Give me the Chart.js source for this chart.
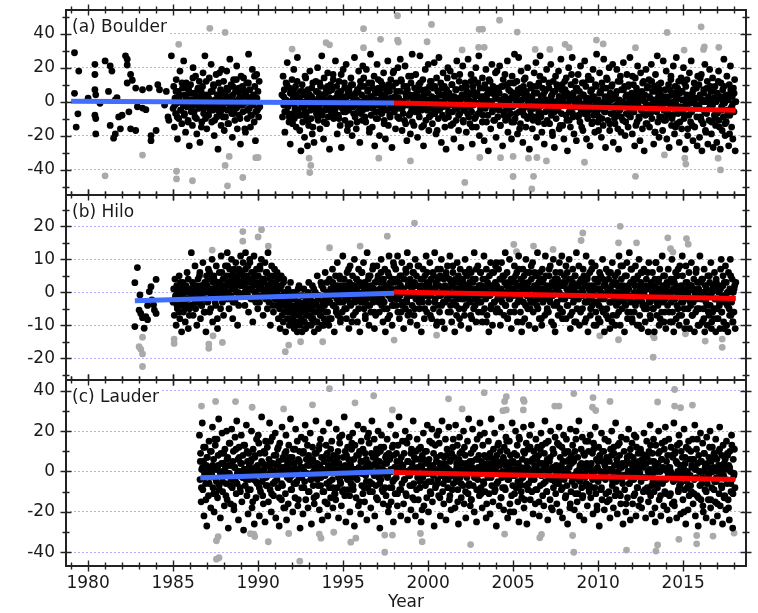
<!DOCTYPE html>
<html>
<head>
<meta charset="utf-8">
<script src="https://cdn.jsdelivr.net/npm/chart.js@4.4.1/dist/chart.umd.min.js"></script>
<style>
  html, body { margin: 0; padding: 0; background: #fff; }
  #wrap { position: relative; width: 758px; height: 613px; overflow: hidden; }
  #wrap canvas { position: absolute; left: 0; }
</style>
</head>
<body>
<div id="wrap">
  <canvas id="panelA" width="758" height="209" style="top:-2px"></canvas>
  <canvas id="panelB" width="758" height="209" style="top:183px"></canvas>
  <canvas id="panelC" width="758" height="245" style="top:368px"></canvas>
</div>
<script>
// ---- axes ----
const xMin = 1978.7, xMax = 2018.7;
const xLabelYears = [1980, 1985, 1990, 1995, 2000, 2005, 2010, 2015];
const boulderRange = [-55, 54];
const hiloRange = [-26.6, 29.5];
const lauderRange = [-46.8, 45.3];
const boulderYLabels = [-40, -20, 0, 20, 40];
const hiloYLabels = [-20, -10, 0, 10, 20];
const lauderYLabels = [-40, -20, 0, 20, 40];

// ---- (a) Boulder ----
const boulderEarly = [[1979.2,28.8],[1979.2,4.9],[1979.4,-7.2],[1979.3,-15],[1979.45,18],[1980.0,2],[1980.4,22],[1980.4,16],[1980.4,7],[1980.45,4],[1980.4,-8],[1980.45,-10],[1980.45,-19],[1980.7,-1],[1981.0,24],[1981.3,21],[1981.4,18],[1981.2,6],[1981.6,1],[1981.3,-14],[1981.9,-16],[1981.5,-21.5],[1981.6,-19],[1981.7,2.3],[1981.8,-9],[1982.0,-8],[1982.4,-6],[1982.2,27],[1982.3,25],[1982.3,21.6],[1982.5,16],[1982.6,12.6],[1982.3,11],[1982.8,8],[1983.2,7],[1983.6,8],[1982.9,-3],[1982.5,-16],[1982.8,-17],[1983.7,-20],[1983.7,-23],[1984.0,-17],[1983.2,-3.8],[1983.4,-4.7],[1984.1,10],[1984.2,7],[1984.5,-2],[1984.6,6],[1984.9,27],[1984.7,-9],[1984.75,-11]];
const boulderMidSpan = [1985.0, 1990.1];
const boulderMid = [
-4,9,-15,2,-7,13,-1,-22,6,-10,3,18,-5,0,-13,8,-2,24,-8,4,-18,11,-3,1,-11,7,-26,5,
10,-6,1,-14,20,-2,5,-9,15,-1,-19,3,8,-4,12,-24,0,6,-12,2,17,-7,-3,27,-10,4,-16,-1,
3,-8,14,-3,0,22,-12,6,-5,9,-20,1,-2,16,-9,4,-28,11,-6,2,7,-14,19,-1,-4,12,-17,5,
-9,2,18,-5,7,-13,0,25,-3,10,-7,-21,4,13,-1,-11,6,-4,21,-16,1,8,-8,3,-25,15,-2,9,
-6,14,-1,5,-18,3,11,-10,0,28,-4,7,-15,2,-8,19,-2,4,-12,9,-23,1,16,-5,6,-9,12,-3];
const boulderMid2Span = [1985.1, 1990.0];
const boulderMid2 = [
-2,6,-9,1,4,-5,11,-1,-7,3,8,-12,0,5,-3,14,-6,2,-10,7,-1,3,-15,9,-4,0,12,-8,2,-5,6,-2,10,-11,1,
-3,4,17,-6,0,-9,5,-1,8,-13,3,-4,2,9,-7,0,13,-3,6,-10,1,-2,7,-16,4,-5,11,0,-8,3,-1,15,-6,2,-4];
const boulderLateSpan = [1991.4, 2018.1];
const boulderLate = [
4,-9,15,-2,7,-18,1,11,-6,23,-3,0,-12,8,-25,5,-1,13,-7,2,19,-10,-4,9,-15,3,26,-5,
-8,2,-17,6,-29,-3,10,-12,-1,4,-21,-6,14,-9,0,-26,7,-14,-2,18,-5,-10,3,-19,11,-4,-24,1,
-2,12,-7,0,20,-11,5,-4,-16,9,-1,27,-8,3,-22,14,-5,1,8,-13,-3,17,-9,6,-28,2,10,-6,
7,-3,16,-10,1,-5,24,-1,9,-19,4,-8,12,0,-14,6,-27,3,-2,19,-6,11,-11,2,22,-4,-17,5,
-5,8,-1,-13,14,3,-20,10,-3,0,26,-9,5,-16,1,7,-6,18,-2,-24,12,-7,4,-11,21,-1,9,-4,
2,-12,19,-4,6,-1,11,-18,0,28,-8,3,-15,8,-3,15,-26,5,-6,1,22,-10,13,-2,-20,7,-5,4,
-7,10,-2,17,-11,4,-22,1,8,-5,24,-14,0,6,-9,13,-3,-27,9,-1,18,-6,3,-16,11,-4,2,20,
1,-10,6,25,-4,12,-17,0,-7,9,-2,21,-13,3,-23,7,-1,15,-8,4,-19,11,-5,28,-3,0,-14,8,
-6,16,-1,5,-21,2,10,-9,27,-4,7,-15,0,13,-26,4,-2,19,-11,6,-5,1,22,-17,9,-3,-8,12,
3,-13,8,-4,23,-7,1,-19,14,-1,6,-10,26,-5,0,11,-24,4,-8,17,-2,9,-15,2,-28,7,-3,20,
-9,5,-2,18,-14,0,10,-6,3,-22,15,-1,7,-11,24,-4,2,-17,12,-7,1,-27,8,-3,21,-12,4,-5,
11,-3,-18,6,1,25,-9,4,-13,0,16,-6,-25,9,-2,13,-10,3,20,-15,5,-1,-7,27,-20,8,-4,2,
-1,14,-8,3,-23,10,-4,19,-12,1,7,-29,5,-2,12,-16,0,22,-6,9,-11,4,-3,17,-21,2,8,-9,
6,-5,21,-14,0,9,-2,-26,13,-8,3,16,-11,1,-4,24,-18,7,-1,11,-7,2,-22,15,-3,5,-12,28,
-10,3,-1,12,-19,7,26,-6,0,-13,18,-3,5,-24,9,-8,2,14,-15,4,-2,20,-9,1,-28,10,-5,8,
2,-16,9,-4,17,-1,-9,23,-21,5,0,-12,11,-3,27,-7,3,-18,8,-2,13,-25,6,-6,1,19,-11,-1,
-4,8,-13,1,22,-8,4,-20,12,-2,-27,6,15,-10,0,9,-5,18,-16,3,-1,25,-7,10,-14,2,-22,5,
7,-2,14,-11,-29,3,20,-6,1,-15,10,-4,26,-9,5,-19,0,12,-3,-23,8,-1,16,-8,2,-12,21,-5,
-3,11,-17,4,-7,24,-1,9,-22,2,-10,15,-5,0,-26,6,13,-13,3,19,-8,1,-18,10,-2,28,-6,-12,
1,-9,17,-4,6,-21,11,-1,-14,25,-6,3,-27,8,-2,13,-11,0,20,-17,5,-7,9,-3,22,-24,2,-10,
-13,4,-2,19,-8,12,-28,1,-5,15,-18,7,0,-11,23,-3,9,-20,3,-7,16,-1,-15,10,-4,26,-9,2,
5,-19,0,10,-6,-26,14,-3,8,-12,21,-1,-9,3,-23,17,-5,6,-16,1,12,-29,4,-8,19,-2,-13,9,
-7,13,-15,2,-4,22,-10,6,-1,-25,9,-18,16,0,-6,27,-12,3,-21,7,-3,11,-9,1,-17,24,-5,-1,
3,-11,18,-22,0,-6,10,-27,7,-2,15,-14,4,-8,21,-4,-19,9,-1,26,-13,2,-7,12,-24,5,-3,14,
-16,6,-5,20,-10,1,-28,9,-3,13,-20,3,-8,17,-1,-12,24,-6,5,-23,0,11,-15,2,-4,8,-26,15,
-2,10,-21,4,-9,16,-29,1,-13,7,-5,22,-17,0,-7,12,-25,3,-11,19,-3,6,-19,-1,14,-27,2,-8,
9,-14,0,-24,5,-6,18,-11,2,-28,11,-3,-17,7,-9,25,-1,-20,4,-12,15,-5,1,-26,10,-8,21,-4,
-15,3,-22,8,-6,13,-29,0];
const boulderLate2Span = [1991.5, 2018.0];
const boulderLate2 = [
3,-6,1,10,-2,-9,5,0,-13,7,-1,4,12,-5,2,-8,0,6,-3,15,
-7,1,-11,4,-2,8,-15,0,-4,6,-9,2,11,-1,-6,3,-12,5,-3,9,
0,-5,7,-1,13,-8,2,-3,5,-10,1,16,-4,0,8,-6,3,-14,6,-2,
10,-1,-7,4,1,-12,6,-3,9,0,-5,14,-9,2,-1,7,-16,3,11,-4,
-2,5,-10,0,8,-6,12,1,-3,-13,4,7,-1,10,-8,2,-4,17,-5,0,
6,-9,2,-1,13,-4,0,-11,5,9,-2,3,-7,15,-12,1,4,-3,8,-6,
-1,11,-5,3,-14,0,7,-2,5,-9,12,-4,1,-7,9,2,-17,6,-3,4,
8,-3,0,-10,5,14,-6,2,-1,10,-13,3,-4,7,0,-8,16,-2,4,-11,
-5,2,9,-7,1,-3,12,-15,6,0,-9,4,11,-1,-6,3,-12,8,-2,1,
4,-8,13,-1,0,-5,7,-11,2,18,-3,5,-14,1,9,-6,3,-1,10,-9,
-4,6,-12,2,11,-2,-7,4,0,-16,8,1,-5,13,-3,6,-10,0,3,-8,
2,-11,5,-3,9,0,-6,15,-9,1,4,-13,7,-2,-1,11,-5,3,-18,6,
-6,0,10,-4,3,-14,7,1,-2,12,-8,5,-1,-11,4,16,-7,2,-3,8,
1,-9,6,-1,-15,4,11,-5,2,-8,13,0,-3,7,-12,3,-6,9,-1,-17,
5,-2,-10,8,0,-6,14,-3,3,-13,1,10,-7,2,-4,6,-16,0,12,-9,
-3,7,-1,-12,4,9,-8,1,-5,15,-2,3,-14,6,0,-10,5,-4,11,-7,
0,-13,8,-2,3,-7,12,-5,1,-18,6,-1,10,-9,4,-3,2,-11,7,-6,
-8,3,-1,13,-10,0,5,-15,2,8,-4,-12,6,1,-7,11,-2,4,-16,2,
3,-5,-14,7,-1,10,-9,2,-3,14,-11,0,5,-6,-18,8,1,-4,9,-12,
-2,6,-10,1,-7,12,-15,3,-5,0,9,-13,2,-8,4,-19,7,-3,-1,5];
const boulderGray = [[1981.0,-43.7],[1983.2,-31.5],[1985.2,-41],[1985.2,-45.5],[1985.33,33.8],[1986.14,-46.6],[1987.16,43.2],[1988.06,40.8],[1988.06,-37.6],[1988.3,-32.3],[1988.2,-49.6],[1989.1,-44.7],[1989.86,-33],[1990.0,-32.9],[1992.0,31],[1993.0,-33.3],[1993.1,-37.6],[1993.04,-41.8],[1994.0,34.7],[1994.2,33.5],[1996.2,43],[1996.2,31.8],[1997.1,-33.3],[1997.2,36.7],[1998.2,50.6],[1998.2,36.3],[1998.25,35.1],[1998.96,-34.9],[1999.94,35.3],[2000.2,45.5],[2002.0,30.5],[2002.16,-47.6],[2002.97,32],[2003.3,32],[2003.0,42.6],[2003.2,42.7],[2003.04,-32.9],[2004.2,48],[2004.26,-33],[2005.24,41],[2005.0,-32.3],[2005.0,-44.1],[2005.9,-33.3],[2006.3,30.8],[2006.4,-32.9],[2006.2,-44],[2006.1,-51.4],[2006.96,-34.9],[2007.16,30.8],[2008.06,33.8],[2008.3,31.8],[2009.2,-35.7],[2009.9,36.3],[2010.3,34],[2012.2,31.8],[2012.2,-44],[2013.9,-31.4],[2014.06,40.8],[2015.06,30.4],[2015.1,-33.3],[2015.16,-36.8],[2016.06,44.1],[2016.2,30.8],[2016.25,32.3],[2017.1,32],[2017.06,-33.3],[2017.2,-40.2]];
const boulderTrendPre = [[1979.0,0.2],[1998.0,-0.8]];
const boulderTrendPost = [[1998.0,-0.8],[2018.1,-5.1]];

// ---- (b) Hilo ----
const hiloEarly = [[1982.75,2.9],[1982.75,-10.4],[1982.9,7.5],[1983.05,-0.8],[1983.0,-5.4],[1983.1,-6.4],[1983.2,-7.7],[1983.3,-10.9],[1983.4,-7.4],[1983.5,-8.3],[1983.6,0.2],[1983.7,1.7],[1983.75,-2.3],[1983.85,-3.8],[1983.9,-5.4],[1984.0,3.9],[1984.0,-6.4],[1983.5,-4.0]];
const hiloMainSpan = [1985.0, 2018.1];
const hiloMain = [
-3,1,-7,4,-1,-10,2,-5,0,-2,5,-8,-4,1,-12,-1,3,-6,-3,0,-9,2,-4,6,-2,-11,1,-5,
0,-4,12,-1,3,-7,1,-2,8,-5,2,-10,0,4,-3,-1,6,-8,2,-4,1,9,-2,-6,3,0,-12,5,
2,-3,7,0,-6,4,1,-1,10,-9,3,5,-2,0,-4,8,1,-11,3,-1,6,2,-5,11,0,-3,4,-7,
4,1,8,-2,5,12,0,3,-5,7,2,-1,10,4,-8,6,1,3,-3,9,2,5,-10,0,7,3,-1,11,
3,6,-1,9,2,4,-4,12,1,5,0,8,-6,3,10,1,-2,6,4,-9,2,11,0,5,-3,7,3,-1,
5,1,-3,7,2,10,-1,4,-7,3,0,9,-2,6,1,-5,12,2,-1,4,-10,3,8,0,-4,5,1,-2,
0,3,-4,6,-2,-8,1,-5,-11,-3,2,-7,-1,-9,4,-6,-3,-12,0,-5,-8,1,-4,-10,-2,3,-6,-9,
-5,-8,-2,-11,-6,0,-9,-4,-12,-3,-7,2,-10,-5,-1,-8,-12,-4,-6,1,-9,-3,-11,-7,-2,-5,-10,3,
-4,-7,-1,-10,-5,2,-8,-3,-12,-6,0,-9,-4,5,-2,-11,-6,-1,-7,3,-5,-10,-3,1,-8,-4,6,-9,
-2,3,-6,0,-10,4,-3,1,-8,-1,7,-4,2,-12,0,5,-5,-2,9,-7,1,-3,4,-9,0,2,-6,11,
-1,4,-5,2,0,-8,6,-2,1,-11,3,8,-4,0,-1,5,-7,2,10,-3,-6,1,4,-9,0,7,-2,-12,
2,-3,6,-1,0,9,-5,3,-8,1,-2,12,-4,4,-10,0,5,-6,2,-1,7,-3,1,-11,3,-7,0,8,
-2,5,0,-6,3,-1,10,-4,1,-9,4,-3,7,-12,2,0,-5,6,-1,11,-7,3,-2,1,-10,4,-4,8,
3,-1,7,-4,1,11,-2,0,-8,5,2,-6,9,-3,1,-11,4,0,-5,6,-2,12,-7,3,-1,8,-9,2,
1,-4,6,0,-7,3,10,-2,5,-10,2,-1,8,-5,0,4,-12,2,-3,7,1,-8,5,-1,11,-6,3,0,
-3,2,9,-1,4,-8,0,6,-5,1,12,-2,3,-10,0,7,-4,2,-6,5,-1,10,-9,1,-3,4,-11,2,
0,5,-2,8,-6,1,-1,11,-4,3,-9,2,6,-3,0,-12,4,1,-7,9,-2,3,-5,0,7,-10,2,-1,
4,-2,1,-7,10,0,-4,5,-1,2,-11,7,-3,1,6,-8,0,3,-5,12,-2,4,-9,1,-1,8,-6,2,
-1,6,-3,2,-9,4,0,11,-5,1,-2,7,-7,3,0,-12,5,-1,9,-4,2,-10,1,6,-3,0,8,-6,
2,-5,0,7,-2,4,-10,1,9,-3,5,-1,-7,3,12,-4,0,6,-8,2,-2,10,-6,1,-11,4,-1,3,
0,8,-4,3,-1,6,-9,2,11,-2,0,-6,4,-12,1,7,-3,5,-8,0,10,-1,2,-5,3,-10,6,-2,
-3,4,-1,9,-6,1,2,-11,5,0,-4,12,-2,3,-8,6,-1,1,-10,7,-3,4,0,-7,11,-2,2,-5,
1,-6,5,-2,8,0,-9,3,-1,10,-4,2,-12,6,1,-3,4,-7,0,9,-5,2,-1,11,-8,3,-2,5,
-2,3,-8,1,6,-4,0,10,-1,-11,4,2,-6,7,-3,1,-9,5,0,12,-5,2,-2,8,-10,3,-1,4,
0,-5,7,-1,3,-9,2,11,-3,5,-12,1,-2,6,-7,0,9,-4,2,-1,-10,4,8,-6,1,-3,3,-8,
-4,1,-9,5,0,-2,10,-6,2,-12,3,-1,7,-5,0,-8,4,1,-11,6,-3,2,9,-7,0,-2,5,-10,
3,-7,0,6,-3,11,-1,-10,2,4,-5,8,-2,1,-12,5,-4,0,9,-8,2,-1,12,-6,3,-3,7,-9,
-1,4,-6,2,8,-3,0,-10,5,-2,10,-7,1,3,-11,6,-4,0,7,-1,-9,2,4,-5,1,-12,9,-3,
-3,-8,2,-1,6,-5,0,-12,4,-2,9,-7,1,-4,3,-10,7,-1,0,-6,11,-3,2,-9,5,-2,-11,1,
2,-4,7,-1,0,-9,4,-3,10,-6,1,-12,3,-2,6,-8,0,5,-5,1,-10,8,-1,2,-7,11,-3,0,
-5,1,-2,8,-9,3,-1,0,6,-11,2,-4,9,-7,1,-3,4,-12,0,-6,7,-2,3,-10,1,-5,11,-1,
-2,4,-9,0,-5,7,-12,2,-3,1,-10,5,-1,-7,3,-4,9,-11,0,-6,2,-8,6,-2,-12,3,-5,1,
-8,2,-4,-11,1,10,-6,-1,5,-9,3,-3,8,-2,-10,0,-12,6,-5,1,10,-7,-3,4,-9,0,-6,2,-11,3];
const hiloMain2Span = [1985.1, 2018.0];
const hiloMain2 = [
-2,1,-4,0,-6,3,-1,-3,2,-5,0,-2,4,-7,1,-1,-4,2,-3,0,
1,-3,5,-1,-4,2,0,-6,3,-2,1,6,-5,0,-1,4,-3,2,-8,1,
3,1,6,-1,4,2,0,8,-2,3,5,1,-3,7,2,0,4,-4,6,2,
2,5,0,7,3,-1,4,9,1,-2,6,3,0,5,-5,2,8,1,4,-1,
4,0,6,2,-3,5,1,3,-6,7,2,0,4,-2,1,5,-4,3,0,-1,
-3,-6,-1,-8,-4,0,-7,-2,-10,-5,1,-3,-9,-6,-1,-4,-11,-2,-7,0,
-5,-2,-8,-4,1,-6,-3,-9,-1,-5,-7,2,-4,-10,-2,-6,0,-3,-8,-1,
-1,3,-4,0,-6,2,-2,5,-8,1,-3,4,-1,-5,0,7,-3,2,-9,1,
2,-2,4,0,-5,3,-1,6,-3,1,-7,2,0,5,-4,1,-2,8,-6,0,
0,4,-3,1,6,-2,3,-5,0,2,-8,5,-1,3,-4,9,0,-2,4,-6,
3,-1,5,-4,1,0,7,-3,2,-6,4,-1,0,6,-5,2,-2,8,-3,1,
-2,4,0,-5,2,6,-1,3,-7,1,0,5,-3,2,-9,4,-1,7,-4,0,
1,-3,6,0,-2,4,-6,2,8,-1,3,-4,0,5,-8,1,-2,3,-5,6,
0,5,-2,3,-7,1,4,-1,-4,7,0,-3,2,6,-6,1,-1,4,-9,2,
-1,2,-5,6,0,-3,3,9,-2,1,-6,4,-1,0,5,-4,2,-8,3,-2,
4,-1,1,-6,5,0,-3,7,-2,2,-9,3,0,-4,6,-1,1,-5,8,-3,
-3,6,-1,2,-5,0,4,-8,3,-2,1,5,-6,0,7,-3,2,-1,-10,4,
1,-4,3,0,6,-2,-6,2,-1,8,-4,1,4,-7,0,3,-2,5,-9,2,
-2,3,-6,1,0,5,-3,-8,4,-1,2,-5,7,0,-3,1,-10,4,-1,6,
0,-5,4,-2,2,-7,1,6,-3,0,-9,3,-1,5,-4,2,-6,0,8,-2,
2,-3,-1,5,-6,1,-2,7,-8,3,0,-4,4,-1,-10,2,6,-3,1,-5,
-4,1,6,-2,-7,3,0,-5,2,9,-3,-1,4,-8,1,-2,5,-6,0,3,
-1,-6,3,0,-9,4,-2,2,-4,7,-7,1,-3,5,-1,-11,3,0,-5,2,
-3,2,-7,1,-1,6,-5,0,-10,3,-2,4,-8,0,2,-4,-6,5,-1,-9,
1,-5,-2,4,-8,0,-3,7,-6,2,-11,-1,3,-4,0,-7,5,-2,-9,1];
const hiloGray = [[1983.0,-16.5],[1983.1,-17.3],[1983.2,-18.7],[1983.2,-22.5],[1983.2,-13.6],[1985.06,-14.2],[1985.06,-15.5],[1987.1,-15.7],[1987.1,-17],[1987.35,-13.2],[1987.9,-15.2],[1987.3,12.8],[1989.1,18.4],[1989.1,15.5],[1990.0,16.8],[1990.2,19],[1990.6,14],[1991.6,-18],[1991.8,-16],[1992.5,-15],[1993.8,-15],[1994.2,13.5],[1996.0,14],[1997.6,17],[1998.0,-14.5],[1999.2,21],[2000.5,-13],[2005.04,14.5],[2005.2,12.3],[2006.2,14],[2007.35,13],[2009.1,18],[2009.0,15.7],[2011.3,20],[2011.2,15],[2012.26,15],[2014.1,16.5],[2014.26,13.2],[2014.4,12.2],[2015.2,16.3],[2015.3,14.6],[2010.1,-13.2],[2011.2,-14.4],[2013.24,-13.1],[2013.3,-13.8],[2013.24,-19.7],[2016.3,-14.8],[2017.3,-14.2],[2017.3,-16.7],[2015.14,-12.6]];
const hiloTrendPre = [[1982.75,-2.6],[1998.0,-0.3]];
const hiloTrendPost = [[1998.0,0.1],[2018.1,-1.9]];

// ---- (c) Lauder ----
const lauderMainSpan = [1986.55, 2018.05];
const lauderMain = [
18,-4,9,-15,1,24,-9,5,-22,-1,12,-6,3,-27,7,0,-12,15,-3,2,-18,10,-2,22,-8,6,-20,1,13,-11,
-5,16,-13,3,26,-7,0,-23,9,-2,19,-10,4,0,-17,11,2,-6,20,-14,7,-28,3,-1,14,-16,-4,21,-8,5,
10,-19,2,17,-5,-11,25,-1,6,-24,12,0,-8,4,18,-15,-3,8,-29,1,13,-7,-2,23,-12,5,-21,9,-4,0,
-9,5,20,-18,1,11,-4,-26,7,2,-13,16,-6,3,-1,14,-22,9,-10,0,27,-5,4,-16,10,-2,-25,15,-7,3,
12,-2,-15,6,24,-9,1,-20,4,17,-6,-12,8,0,19,-23,3,-4,11,-8,5,-27,14,-1,2,-14,22,-7,7,-18,
0,9,-11,18,-24,3,5,-16,13,-4,1,26,-9,-2,7,-20,11,-6,4,-13,21,1,-5,15,-17,6,-3,10,-28,2,
17,-8,2,-21,10,0,-5,23,-14,6,-1,13,-18,8,-10,3,19,-4,-26,5,12,-7,0,-16,9,-3,25,-12,4,-1,
-7,11,-19,3,16,-3,7,-24,1,20,-10,5,-15,0,13,-6,9,-22,2,24,-8,6,-13,0,15,-4,-18,8,2,-11,
5,-14,21,-1,-8,10,-23,4,14,-5,0,-17,18,-10,7,-2,27,-12,3,-25,8,-3,12,-9,1,17,-20,5,-6,11,
-3,19,-9,6,-27,13,1,-13,8,-4,23,-17,2,10,0,-21,15,-7,5,-11,21,-1,-15,9,-2,6,-24,17,-8,4,
14,-5,2,-18,9,25,-10,3,-1,16,-22,7,-7,11,0,-14,20,-3,5,-28,10,-4,18,-9,1,-16,12,-1,-8,7,
-12,4,16,-2,-20,9,6,-8,23,-15,0,12,-5,-25,8,2,-11,18,-3,5,-17,13,0,27,-9,2,-22,7,-6,15,
3,-16,9,-4,20,-11,0,14,-24,5,-2,17,-7,1,-19,11,4,-13,25,-6,7,0,-22,10,-9,16,2,-14,6,-3,
-8,12,-25,2,8,-3,19,-17,0,10,-6,4,-13,23,-1,-20,6,15,-10,1,-5,21,-15,3,9,-27,0,13,-7,5,
18,-6,1,-12,14,4,-22,8,-2,25,-10,3,-16,7,0,16,-24,2,11,-8,-4,22,-14,5,0,-19,9,-2,12,-6,
-1,7,-18,23,-5,2,13,-9,-26,6,17,-3,0,-13,10,4,-7,20,-16,1,8,-23,4,-3,15,-11,26,-6,3,-17,
9,-14,5,21,-7,0,-20,12,-2,6,-25,16,-4,2,8,-12,24,-1,-8,5,-18,13,1,-6,19,-10,3,-23,7,0,
-3,15,-11,2,-21,7,26,-7,4,-15,11,-1,19,-9,0,-27,8,5,-5,14,-17,3,10,-13,22,-3,-8,6,-19,12,
5,-9,17,0,10,-23,3,-4,15,-16,8,1,-12,24,-7,5,-20,9,-2,20,-8,0,13,-15,4,-25,16,-5,2,-10,
-13,6,-3,22,-18,9,0,-7,14,-26,2,11,-6,-1,18,-14,5,23,-10,0,-21,10,-4,7,-16,16,2,-9,12,-1,
8,-22,4,-7,19,-2,13,-12,1,-17,9,25,-5,3,-10,6,-24,15,0,5,-14,20,-4,1,-19,11,-8,9,-3,17,
-11,3,-16,14,0,-6,22,-20,7,2,-9,12,-23,5,18,-4,9,-13,1,16,-7,-26,10,-2,6,-18,21,-10,4,-5,
13,-2,5,-19,10,-11,20,0,-15,7,-4,25,-22,3,-1,11,-8,17,-12,2,-24,8,-3,15,-6,4,-17,1,10,-9,
-7,18,-13,4,-1,9,-21,14,-3,0,22,-11,6,-17,2,-5,12,-27,8,0,-9,19,-14,5,-2,10,-19,16,-4,1,
7,-15,1,15,-10,5,-23,11,-3,20,-7,0,-18,9,3,-12,24,-5,6,-21,13,-1,-11,8,2,-16,17,-4,4,-26,
-2,10,-9,3,-20,16,5,-13,0,21,-6,8,-24,4,-1,14,-16,7,-4,18,-11,0,-22,12,3,-8,9,-17,5,-1,
11,-5,-18,6,2,-10,19,-3,8,-23,4,15,-8,0,-15,10,-2,23,-12,5,-21,9,-5,16,-10,2,-25,13,-6,1,
-8,4,20,-14,10,0,-22,6,14,-6,1,-17,11,-10,22,-4,5,-19,8,-2,16,-24,2,-11,12,-1,-16,7,-5,24,
-17,9,-4,5,-23,13,0,-10,18,-7,3,-21,10,-1,7,-14,2,21,-9,4,-26,12,-5,0,-19,15,-12,6,-2,10,
-10,2,16,-16,6,-4,23,-22,1,11,-12,4,-27,8,0,-7,19,-14,5,-3,14,-20,0,9,-9,3,-23,17,-6,2,
-14,7,-1,20,-18,5,-8,12,-25,2,9,-5,-15,16,-3,6,-22,0,10,-11,22,-17,3,-7,8,-26,13,-2,4,-12,
1,-19,15,-6,8,-14,3,-24,10,0,-10,18,-4,-28,6,-2,11,-8];
const lauderMain2Span = [1986.6, 2018.0];
const lauderMain2 = [
5,-8,2,12,-3,-14,7,0,-6,10,-1,3,-11,16,-4,1,8,-9,-2,4,
-5,9,0,-12,6,-1,14,-7,3,-3,-17,2,11,-6,0,7,-10,4,-2,13,
1,-4,10,-9,3,-1,6,-15,0,8,-5,2,18,-8,-2,5,-12,1,9,-3,
-7,3,-1,15,-11,4,0,-5,8,-2,12,-13,1,-6,6,2,-18,10,-3,0,
7,-2,-9,4,1,11,-6,0,-14,5,2,-3,9,-8,16,-1,3,-10,6,-4,
-1,6,-13,2,9,-4,0,13,-7,1,-10,5,-2,8,-16,3,-5,11,0,-8,
4,-11,1,7,-3,17,-6,2,-1,-9,10,0,-4,6,-12,3,14,-7,1,-2,
-3,0,8,-15,5,-1,11,-8,2,-5,3,19,-10,0,-6,7,-2,4,-13,9,
2,-6,12,-1,-10,4,0,8,-3,-17,6,1,-8,13,-4,2,9,-11,0,5,
-9,3,1,-4,15,-12,5,0,-2,9,-7,2,-14,6,1,-3,11,-5,3,-19,
6,-1,-7,10,0,-5,3,-11,14,-2,1,-8,7,-4,20,-13,2,0,-6,4,
-4,8,-2,1,-12,6,-9,16,0,-3,4,-15,2,9,-6,0,-1,12,-10,3,
0,-7,5,-14,2,11,-3,1,-9,6,-1,18,-11,3,-5,8,0,-16,4,-2,
9,-3,0,6,-10,2,-6,13,-1,4,-13,0,7,-8,3,15,-4,1,-20,5,
-2,4,-11,1,8,-5,17,-7,0,-3,10,-14,2,5,-9,1,12,-4,6,-1,
3,-9,6,0,-15,11,-2,4,-6,1,14,-10,0,-3,7,-18,2,9,-5,0,
-6,1,13,-4,3,-8,0,10,-12,5,-1,2,-16,8,-3,6,-7,16,-1,-11,
1,-5,4,-13,9,-1,-7,2,15,-10,3,0,-4,11,-8,1,-19,5,7,-3,
-8,10,-2,3,-11,0,6,-14,1,8,-5,12,-3,-9,4,0,14,-12,2,-6,
4,-2,-16,7,0,-6,11,-4,2,-12,5,17,-8,1,-1,-14,9,-3,3,-9,
-3,7,-10,1,13,-7,-1,5,-18,3,0,9,-5,-12,6,2,-4,15,-11,0,
2,-12,0,8,-4,-15,10,-2,4,-9,14,-6,1,3,-20,7,-1,-8,11,-3,
-7,3,6,-11,1,-3,16,-13,0,5,-6,-17,9,2,-10,4,-2,12,-14,1,
0,-9,7,-5,-16,3,11,-2,-8,1,-13,6,-4,9,-18,2,-6,13,-11,-1];
const lauderGray = [[1986.67,32.4],[1987.5,34.7],[1988.67,34.6],[1989.65,31.8],[1987.55,-34.3],[1987.65,-32.3],[1987.55,-43.4],[1987.7,-42.7],[1989.55,-30.8],[1989.8,-32.2],[1989.75,-31],[1990.6,-34.8],[1991.5,31],[1991.8,-30.7],[1992.45,-44.4],[1993.2,33],[1993.6,-31],[1993.7,-33],[1994.2,41],[1994.45,-30.1],[1995.45,-35],[1995.7,34],[1995.75,-33],[1996.8,37.5],[1997.45,-40],[1997.45,-31.5],[1997.9,-31.5],[1997.9,30.5],[1999.55,-30.7],[1999.65,-34.8],[2001.2,36],[2002.0,31],[2002.5,-36.2],[2003.3,39],[2004.5,-31],[2004.5,34.7],[2004.6,37],[2004.4,30.1],[2004.6,30.5],[2005.6,35.6],[2005.65,34.7],[2005.6,30.5],[2006.67,-31.2],[2006.57,-32.8],[2007.45,32.4],[2007.7,32.4],[2008.5,-31.7],[2008.57,-40],[2008.57,38.6],[2009.7,36.6],[2009.67,31.8],[2009.86,30.2],[2010.7,34.7],[2011.67,-38.9],[2013.5,34.4],[2013.5,-36.4],[2013.4,-39.4],[2014.5,40.6],[2014.5,32.4],[2014.85,31.6],[2014.75,-33.6],[2015.55,32.9],[2015.8,-31.7],[2015.8,-35.8],[2016.76,-32],[2018.0,-30.5]];
const lauderTrendPre = [[1986.6,-3.1],[1998.0,0.0]];
const lauderTrendPost = [[1998.0,-0.5],[2018.05,-4.0]];

// ---- helpers ----
const FONT = '"DejaVu Sans", Verdana, sans-serif';
Chart.defaults.font.family = FONT;
Chart.defaults.color = '#1a1a1a';

function pairs(list) {
  return list.map(([x, y]) => ({ x, y }));
}
function spread(span, values) {
  const step = (span[1] - span[0]) / (values.length - 1);
  return values.map((v, i) => ({ x: span[0] + i * step, y: v }));
}

// panel label on a white patch, and the boxed frame with crossing ticks
const framePlugin = {
  id: 'frame',
  beforeDatasetsDraw(chart, args, opts) {
    const { ctx, chartArea: a } = chart;
    ctx.save();
    ctx.font = '17px ' + FONT;
    const w = ctx.measureText(opts.label).width;
    ctx.fillStyle = '#fff';
    ctx.fillRect(a.left + 1, a.top + 1, w + 7, 27);
    ctx.fillStyle = '#1a1a1a';
    ctx.textBaseline = 'middle';
    ctx.fillText(opts.label, a.left + 6, a.top + 18);
    ctx.restore();
  },
  afterDraw(chart, args, opts) {
    const { ctx, chartArea: a, scales: { x, y } } = chart;
    ctx.save();
    ctx.strokeStyle = '#222';
    ctx.lineWidth = 1.4;
    ctx.beginPath();
    for (let yr = Math.ceil(x.min); yr <= x.max; yr++) {
      const px = Math.round(x.getPixelForValue(yr)) + 0.5;
      const len = yr % 5 === 0 ? 5.5 : 3.5;
      ctx.moveTo(px, a.top - len); ctx.lineTo(px, a.top + len);
      ctx.moveTo(px, a.bottom - len); ctx.lineTo(px, a.bottom + len);
    }
    for (let v = Math.ceil(y.min / opts.minor) * opts.minor; v <= y.max; v += opts.minor) {
      const py = Math.round(y.getPixelForValue(v)) + 0.5;
      const len = Math.abs(v % opts.major) < 1e-9 ? 5.5 : 3.5;
      ctx.moveTo(a.left - len, py); ctx.lineTo(a.left + len, py);
      ctx.moveTo(a.right - len, py); ctx.lineTo(a.right + len, py);
    }
    ctx.stroke();
    ctx.lineWidth = 2;
    ctx.strokeRect(a.left, a.top, a.right - a.left, a.bottom - a.top);
    ctx.restore();
  }
};

function makePanel(id, p) {
  const last = !!p.showX;
  return new Chart(document.getElementById(id), {
    type: 'scatter',
    data: {
      datasets: [
        { data: pairs(p.pre), showLine: true, borderColor: 'rgb(66,110,255)', borderWidth: 5, pointRadius: 0, order: 0 },
        { data: pairs(p.post), showLine: true, borderColor: '#ff0000', borderWidth: 5, pointRadius: 0, order: 0 },
        { data: p.black, backgroundColor: '#000', borderWidth: 0, pointRadius: 3.4, order: 1 },
        { data: pairs(p.gray), backgroundColor: '#aaaaaa', borderWidth: 0, pointRadius: 3.4, order: 2 }
      ]
    },
    options: {
      responsive: false,
      animation: false,
      events: [],
      layout: { padding: { left: 0, right: 12, top: 12, bottom: last ? 0 : 12 } },
      plugins: {
        legend: { display: false },
        tooltip: { enabled: false },
        frame: { label: p.label, minor: p.minor, major: p.major }
      },
      scales: {
        x: {
          type: 'linear',
          min: xMin,
          max: xMax,
          display: last,
          afterBuildTicks: s => { s.ticks = xLabelYears.map(v => ({ value: v })); },
          afterFit: s => {
            if (!last) return;
            s.height = 47;
            s.paddingLeft = 0;
            s.paddingRight = 0;
          },
          grid: { display: false, drawTicks: false },
          border: { display: false },
          ticks: { autoSkip: false, maxRotation: 0, padding: 7, font: { size: 17 }, callback: v => String(v) },
          title: { display: true, text: 'Year', font: { size: 17 }, padding: { top: 0, bottom: 0 } }
        },
        y: {
          min: p.range[0],
          max: p.range[1],
          afterBuildTicks: s => { s.ticks = p.yLabels.map(v => ({ value: v })); },
          afterFit: s => {
            s.width = 66;
            s.paddingTop = 0;
            s.paddingBottom = 0;
          },
          grid: { color: 'rgba(150,150,255,0.75)', lineWidth: 1, drawTicks: false },
          border: { display: false, dash: [2, 2] },
          ticks: { padding: 11, font: { size: 17 }, callback: v => String(v) }
        }
      }
    },
    plugins: [framePlugin]
  });
}

makePanel('panelA', {
  label: '(a) Boulder', range: boulderRange, yLabels: boulderYLabels, minor: 10, major: 20,
  black: pairs(boulderEarly).concat(
    spread(boulderMidSpan, boulderMid), spread(boulderMid2Span, boulderMid2),
    spread(boulderLateSpan, boulderLate), spread(boulderLate2Span, boulderLate2)),
  gray: boulderGray, pre: boulderTrendPre, post: boulderTrendPost
});
makePanel('panelB', {
  label: '(b) Hilo', range: hiloRange, yLabels: hiloYLabels, minor: 5, major: 10,
  black: pairs(hiloEarly).concat(spread(hiloMainSpan, hiloMain), spread(hiloMain2Span, hiloMain2)),
  gray: hiloGray, pre: hiloTrendPre, post: hiloTrendPost
});
makePanel('panelC', {
  label: '(c) Lauder', range: lauderRange, yLabels: lauderYLabels, minor: 10, major: 20,
  black: spread(lauderMainSpan, lauderMain).concat(spread(lauderMain2Span, lauderMain2)),
  gray: lauderGray, pre: lauderTrendPre, post: lauderTrendPost, showX: true
});
</script>
</body>
</html>
